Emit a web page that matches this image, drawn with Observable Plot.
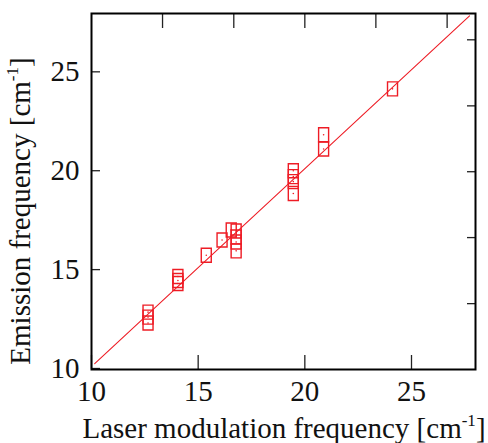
<!DOCTYPE html>
<html>
<head>
<meta charset="utf-8">
<script src="https://cdn.jsdelivr.net/npm/d3@7"></script>
<script src="https://cdn.jsdelivr.net/npm/@observablehq/plot@0.6"></script>
<style>
  html, body { margin: 0; padding: 0; background: #fff; }
  #chart { width: 488px; height: 443px; }
</style>
</head>
<body>
<div id="chart"></div>
<script>
// Measured points: laser modulation frequency vs emission frequency (cm^-1)
const laserFreq    = [12.65, 12.65, 12.65, 14.05, 14.05, 14.05, 15.38, 16.12, 16.55, 16.78, 16.78, 16.78, 16.78, 19.46, 19.46, 19.46, 19.46, 20.88, 20.88, 24.11];
const emissionFreq = [12.9, 12.65, 12.35, 14.7, 14.5, 14.35, 15.78, 16.55, 17.05, 17.0, 16.7, 16.45, 16.0, 20.05, 19.75, 19.5, 18.9, 21.87, 21.15, 24.19];

// Fitted line endpoints
const fitX = [10.15, 27.72];
const fitY = [10.3, 27.88];

// Tick values
const mainTicks = [10, 15, 20, 25];
const minorTicks = [13.33, 16.67, 20, 23.33, 26.67];

const points = laserFreq.map((x, i) => ({x, y: emissionFreq[i]}));
const fit = fitX.map((x, i) => ({x, y: fitY[i]}));

const red = "#ee1c25";
const boxSymbol = { draw(ctx) { ctx.rect(-5, -7, 10, 14); } };

const chart = Plot.plot({
  width: 488,
  height: 443,
  marginLeft: 91,
  marginRight: 13,
  marginTop: 13,
  marginBottom: 74,
  style: { fontFamily: "'Liberation Serif', 'Times New Roman', serif", fontSize: "29px", color: "#111", background: "#fff" },
  x: { domain: [10, 28] },
  y: { domain: [10, 28] },
  marks: [
    Plot.axisX(mainTicks, { anchor: "bottom", tickSize: -14, tickPadding: 25, label: null, stroke: "#222", strokeWidth: 1.3, fontSize: 29 }),
    Plot.axisY(mainTicks, { anchor: "left", tickSize: -9, tickPadding: 21, label: null, stroke: "#222", strokeWidth: 1.3, fontSize: 29, dy: -1 }),
    Plot.axisX(minorTicks, { anchor: "top", tickSize: -14, tickFormat: null, text: null, label: null, stroke: "#222", strokeWidth: 1.3 }),
    Plot.axisY(minorTicks, { anchor: "right", tickSize: -9, tickFormat: null, text: null, label: null, stroke: "#222", strokeWidth: 1.3 }),
    Plot.line(fit, { x: "x", y: "y", stroke: red, strokeWidth: 1.1 }),
    Plot.dot(points, { x: "x", y: "y", symbol: boxSymbol, stroke: red, strokeWidth: 1.4, fill: "none", r: 4 }),
    Plot.dot(points, { x: "x", y: "y", r: 0.8, fill: red, stroke: null }),
    Plot.frame({ stroke: "#000", strokeWidth: 2 })
  ]
});

const svg = d3.select(chart);
const font = "'Liberation Serif', 'Times New Roman', serif";

const xt = svg.append("text")
  .attr("x", 284).attr("y", 438)
  .attr("text-anchor", "middle")
  .attr("font-family", font).attr("font-size", 29).attr("fill", "#111");
xt.append("tspan").text("Laser modulation frequency [cm");
xt.append("tspan").attr("font-size", 17).attr("dy", -12).text("-1");
xt.append("tspan").attr("dy", 12).text("]");

const yt = svg.append("text")
  .attr("transform", "translate(30,211) rotate(-90)")
  .attr("text-anchor", "middle")
  .attr("font-family", font).attr("font-size", 29).attr("fill", "#111");
yt.append("tspan").text("Emission frequency [cm");
yt.append("tspan").attr("font-size", 17).attr("dy", -12).text("-1");
yt.append("tspan").attr("dy", 12).text("]");

document.getElementById("chart").appendChild(chart);
</script>
</body>
</html>
